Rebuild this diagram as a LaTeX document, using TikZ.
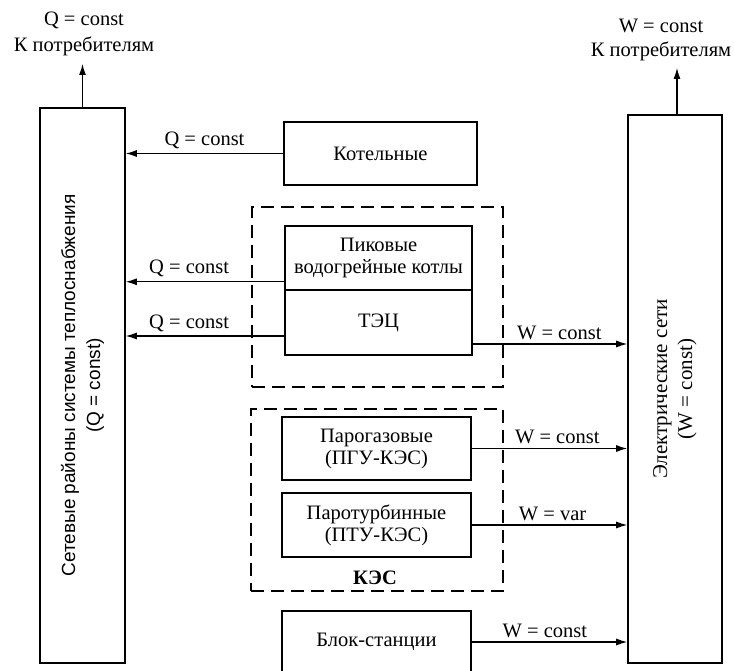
\documentclass[tikz,border=0pt]{standalone}
\usepackage{fontspec}
\setmainfont{Liberation Serif}
\setsansfont{Liberation Sans}
\usetikzlibrary{arrows.meta}

\tikzset{
  blk/.style={draw, line width=1.6pt, inner sep=0pt, align=center},
  grp/.style={draw, line width=1.8pt, dash pattern=on 13pt off 7pt},
  arr/.style={line width=1.2pt, -{Latex[length=11pt,width=7pt]}},
  lbl/.style={above, inner sep=1pt, yshift=3pt},
}

\begin{document}
\begin{tikzpicture}[x=1pt,y=1pt,yscale=-1,xscale=1,font=\fontsize{20.5}{22}\selectfont]
\useasboundingbox (0,0) rectangle (734,671);
\clip (0,0) rectangle (734,671);

%Shape: Rectangle (heat networks)
\node[blk, minimum width=85pt, minimum height=555pt] (net) at (82.5,385.5) {};
\node[rotate=90, align=center, font=\sffamily\fontsize{19}{25}\selectfont] (nettxt) at (net.center) {Сетевые районы системы теплоснабжения\\(Q = const)};
%Shape: Rectangle (power grid)
\node[blk, minimum width=94pt, minimum height=548pt] (elec) at (675,389) {};
\node[rotate=90, align=center, font=\fontsize{21}{25}\selectfont] (electxt) at (elec.center) {Электрические сети\\(W = const)};

%Shape: Dashed groups
\node[grp, minimum width=251pt, minimum height=180pt] (tecgrp) at (377.5,297) {};
\node[grp, minimum width=252pt, minimum height=182pt] (kesgrp) at (377,500) {};
\node[font=\bfseries\fontsize{20.5}{22}\selectfont] (keslbl) at (375,578) {КЭС};

%Shape: Plants
\node[blk, minimum width=193pt, minimum height=63pt] (kot) at (380.5,153.5) {Котельные};
\node[blk, minimum width=187pt, minimum height=64pt] (peak) at (378.5,258) {Пиковые\\водогрейные котлы};
\node[blk, minimum width=187pt, minimum height=65pt] (tec) at (378.5,322.5) {ТЭЦ};
\node[blk, minimum width=189pt, minimum height=63pt] (pgu) at (376.5,448.5) {Парогазовые\\(ПГУ-КЭС)};
\node[blk, minimum width=189pt, minimum height=64pt] (ptu) at (376.5,525) {Паротурбинные\\(ПТУ-КЭС)};
\node[blk, minimum width=189pt, minimum height=62pt] (blok) at (376.5,642) {Блок-станции};

% Text Node (consumers)
\node[align=center] (qcons) at (84,34) {Q = const\\[4pt]К потребителям};
\node[align=center] (wcons) at (661,40) {W = const\\[2pt]К потребителям};
\coordinate (qtop) at (82.5,64);
\coordinate (wtop) at (677,68);

%Straight Lines (heat)
\draw[arr] (net.north) -- (qtop);
\draw[arr] (kot.west) -- (kot.west -| net.east) node[lbl, pos=0.5] {Q = const};
\draw[arr] ([yshift=-9pt]peak.south west) -- ([yshift=-9pt]peak.south west -| net.east) node[lbl, pos=0.6] {Q = const};
\draw[arr] ([yshift=13.5pt]tec.west) -- ([yshift=13.5pt]tec.west -| net.east) node[lbl, pos=0.6] {Q = const};

%Straight Lines (power)
\draw[arr] ([xshift=2pt]elec.north) -- (wtop);
\draw[arr] ([yshift=21.5pt]tec.east) -- ([yshift=21.5pt]tec.east -| elec.west) node[lbl, pos=0.56] {W = const};
\draw[arr] (pgu.east) -- (pgu.east -| elec.west) node[lbl, pos=0.55] {W = const};
\draw[arr] (ptu.east) -- (ptu.east -| elec.west) node[lbl, pos=0.52] {W = var};
\draw[arr] (blok.east) -- (blok.east -| elec.west) node[lbl, pos=0.47] {W = const};

\end{tikzpicture}
\end{document}
